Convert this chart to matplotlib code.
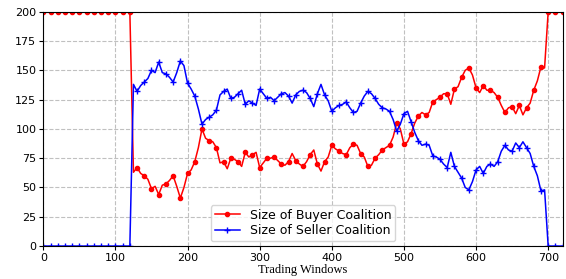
import numpy as np
import matplotlib
matplotlib.use('Agg')
import matplotlib.pyplot as plt


# Trading windows (step 5)
windows = np.arange(0, 725, 5)

# Size of buyer coalition
buyer = [200] * 25 + [
    63, 67, 62, 60, 57, 49, 51, 44, 52, 53,
    56, 60, 51, 41, 50, 62, 65, 72, 84, 100,
    92, 90, 89, 84, 71, 72, 66, 75, 74, 72,
    68, 80, 76, 78, 80, 67, 71, 75, 75, 76,
    73, 70, 69, 72, 79, 73, 70, 68, 72, 78,
    82, 70, 64, 72, 76, 86, 83, 81, 79, 78,
    84, 87, 86, 79, 76, 68, 69, 75, 78, 82,
    84, 86, 93, 105, 100, 87, 89, 96, 105, 111,
    114, 112, 114, 123, 125, 127, 130, 130, 121, 134,
    136, 144, 150, 152, 146, 135, 131, 137, 133, 133,
    131, 127, 120, 114, 118, 119, 113, 120, 112, 118,
    122, 133, 141, 153, 152,
] + [200] * 5

# Size of seller coalition
seller = [0] * 25 + [
    138, 132, 137, 140, 143, 150, 148, 157, 148, 147,
    144, 140, 148, 158, 154, 139, 134, 128, 117, 104,
    108, 110, 112, 116, 129, 132, 134, 126, 127, 130,
    133, 121, 124, 122, 120, 134, 130, 126, 127, 124,
    127, 130, 131, 128, 122, 129, 132, 133, 131, 126,
    119, 130, 138, 129, 124, 115, 118, 120, 121, 123,
    118, 114, 115, 122, 128, 132, 130, 126, 121, 118,
    117, 115, 108, 98, 104, 113, 115, 106, 97, 90,
    86, 87, 86, 77, 76, 74, 70, 67, 80, 68,
    63, 58, 50, 48, 55, 65, 68, 62, 68, 70,
    68, 72, 81, 86, 82, 81, 88, 84, 89, 84,
    79, 68, 60, 47, 48,
] + [0] * 5

fig = plt.figure(figsize=(5.66, 2.79), dpi=100)
ax = fig.add_subplot(111)
fig.subplots_adjust(left=0.0765, right=0.994, top=0.958, bottom=0.118)

ax.plot(windows, buyer, color='red', marker='o', markersize=3,
        markevery=2, linewidth=1.1, label='Size of Buyer Coalition')
ax.plot(windows, seller, color='blue', marker='+', markersize=4.5,
        markevery=2, linewidth=1.1, label='Size of Seller Coalition')

ax.set_xlim(0, 720)
ax.set_ylim(0, 200)
ax.set_xticks([0, 100, 200, 300, 400, 500, 600, 700])
ax.set_yticks([0, 25, 50, 75, 100, 125, 150, 175, 200])
ax.tick_params(labelsize=8, length=3, pad=2)
ax.grid(True, linestyle='--', color='#c0c0c0', linewidth=0.8)
ax.set_xlabel('Trading Windows', family='Liberation Serif', fontsize=9, labelpad=1)
ax.legend(loc='lower center', fontsize=9, borderpad=0.3,
          handlelength=2, labelspacing=0.2, borderaxespad=0.4)

plt.savefig('out.png', dpi=100)
